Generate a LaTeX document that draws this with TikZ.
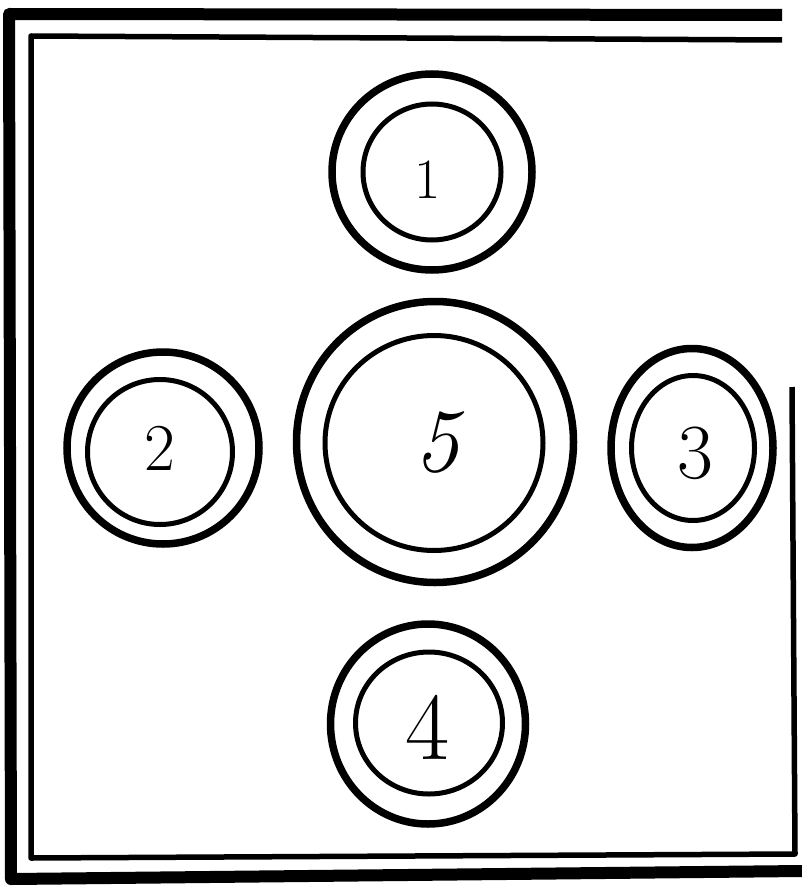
\documentclass[tikz,border=0pt]{standalone}
\usetikzlibrary{shapes.geometric}
\begin{document}
\begin{tikzpicture}[x=1pt,y=-1pt,
  ring/.style={ellipse, draw, line width=7.5pt, inner sep=0pt},
  inring/.style={ellipse, draw, line width=5pt, inner sep=0pt},
  num/.style={inner sep=0pt, font=\fontsize{#1}{#1}\selectfont}]
\useasboundingbox (0,0) rectangle (802,888);
% frames
\draw[line width=12pt, line join=round] (782,15) -- (9,14) -- (11,879) -- (802,871);
\draw[line width=5.5pt, line join=round] (782,40) -- (31,36) -- (31,858) -- (795,854) -- (792,387);
% circle 1
\node[ring, minimum width=200pt, minimum height=196pt] (o1) at (432,172) {};
\node[inring, minimum width=138pt, minimum height=136pt] (i1) at (432,172) {};
\node[num=57] (n1) at (428,180) {1};
% circle 2
\node[ring, minimum width=192pt, minimum height=192pt] (o2) at (163,448) {};
\node[inring, minimum width=145pt, minimum height=145pt] (i2) at (160,452) {};
\node[num=67] (n2) at (160,448) {2};
% circle 5
\node[ring, minimum width=277pt, minimum height=281pt] (o5) at (435,442) {};
\node[inring, minimum width=218pt, minimum height=215pt] (i5) at (434,443) {};
\node[num=90] (n5) at (437,443) {\itshape 5};
% circle 3
\node[ring, minimum width=162pt, minimum height=199pt] (o3) at (692,448) {};
\node[inring, minimum width=123pt, minimum height=145pt] (i3) at (693,448) {};
\node[num=78] (n3) at (695,453) {3};
% circle 4
\node[ring, minimum width=195pt, minimum height=200pt] (o4) at (428,724) {};
\node[inring, minimum width=147pt, minimum height=142pt] (i4) at (429,723) {};
\node[num=96] (n4) at (428,727) {4};
\end{tikzpicture}
\end{document}
